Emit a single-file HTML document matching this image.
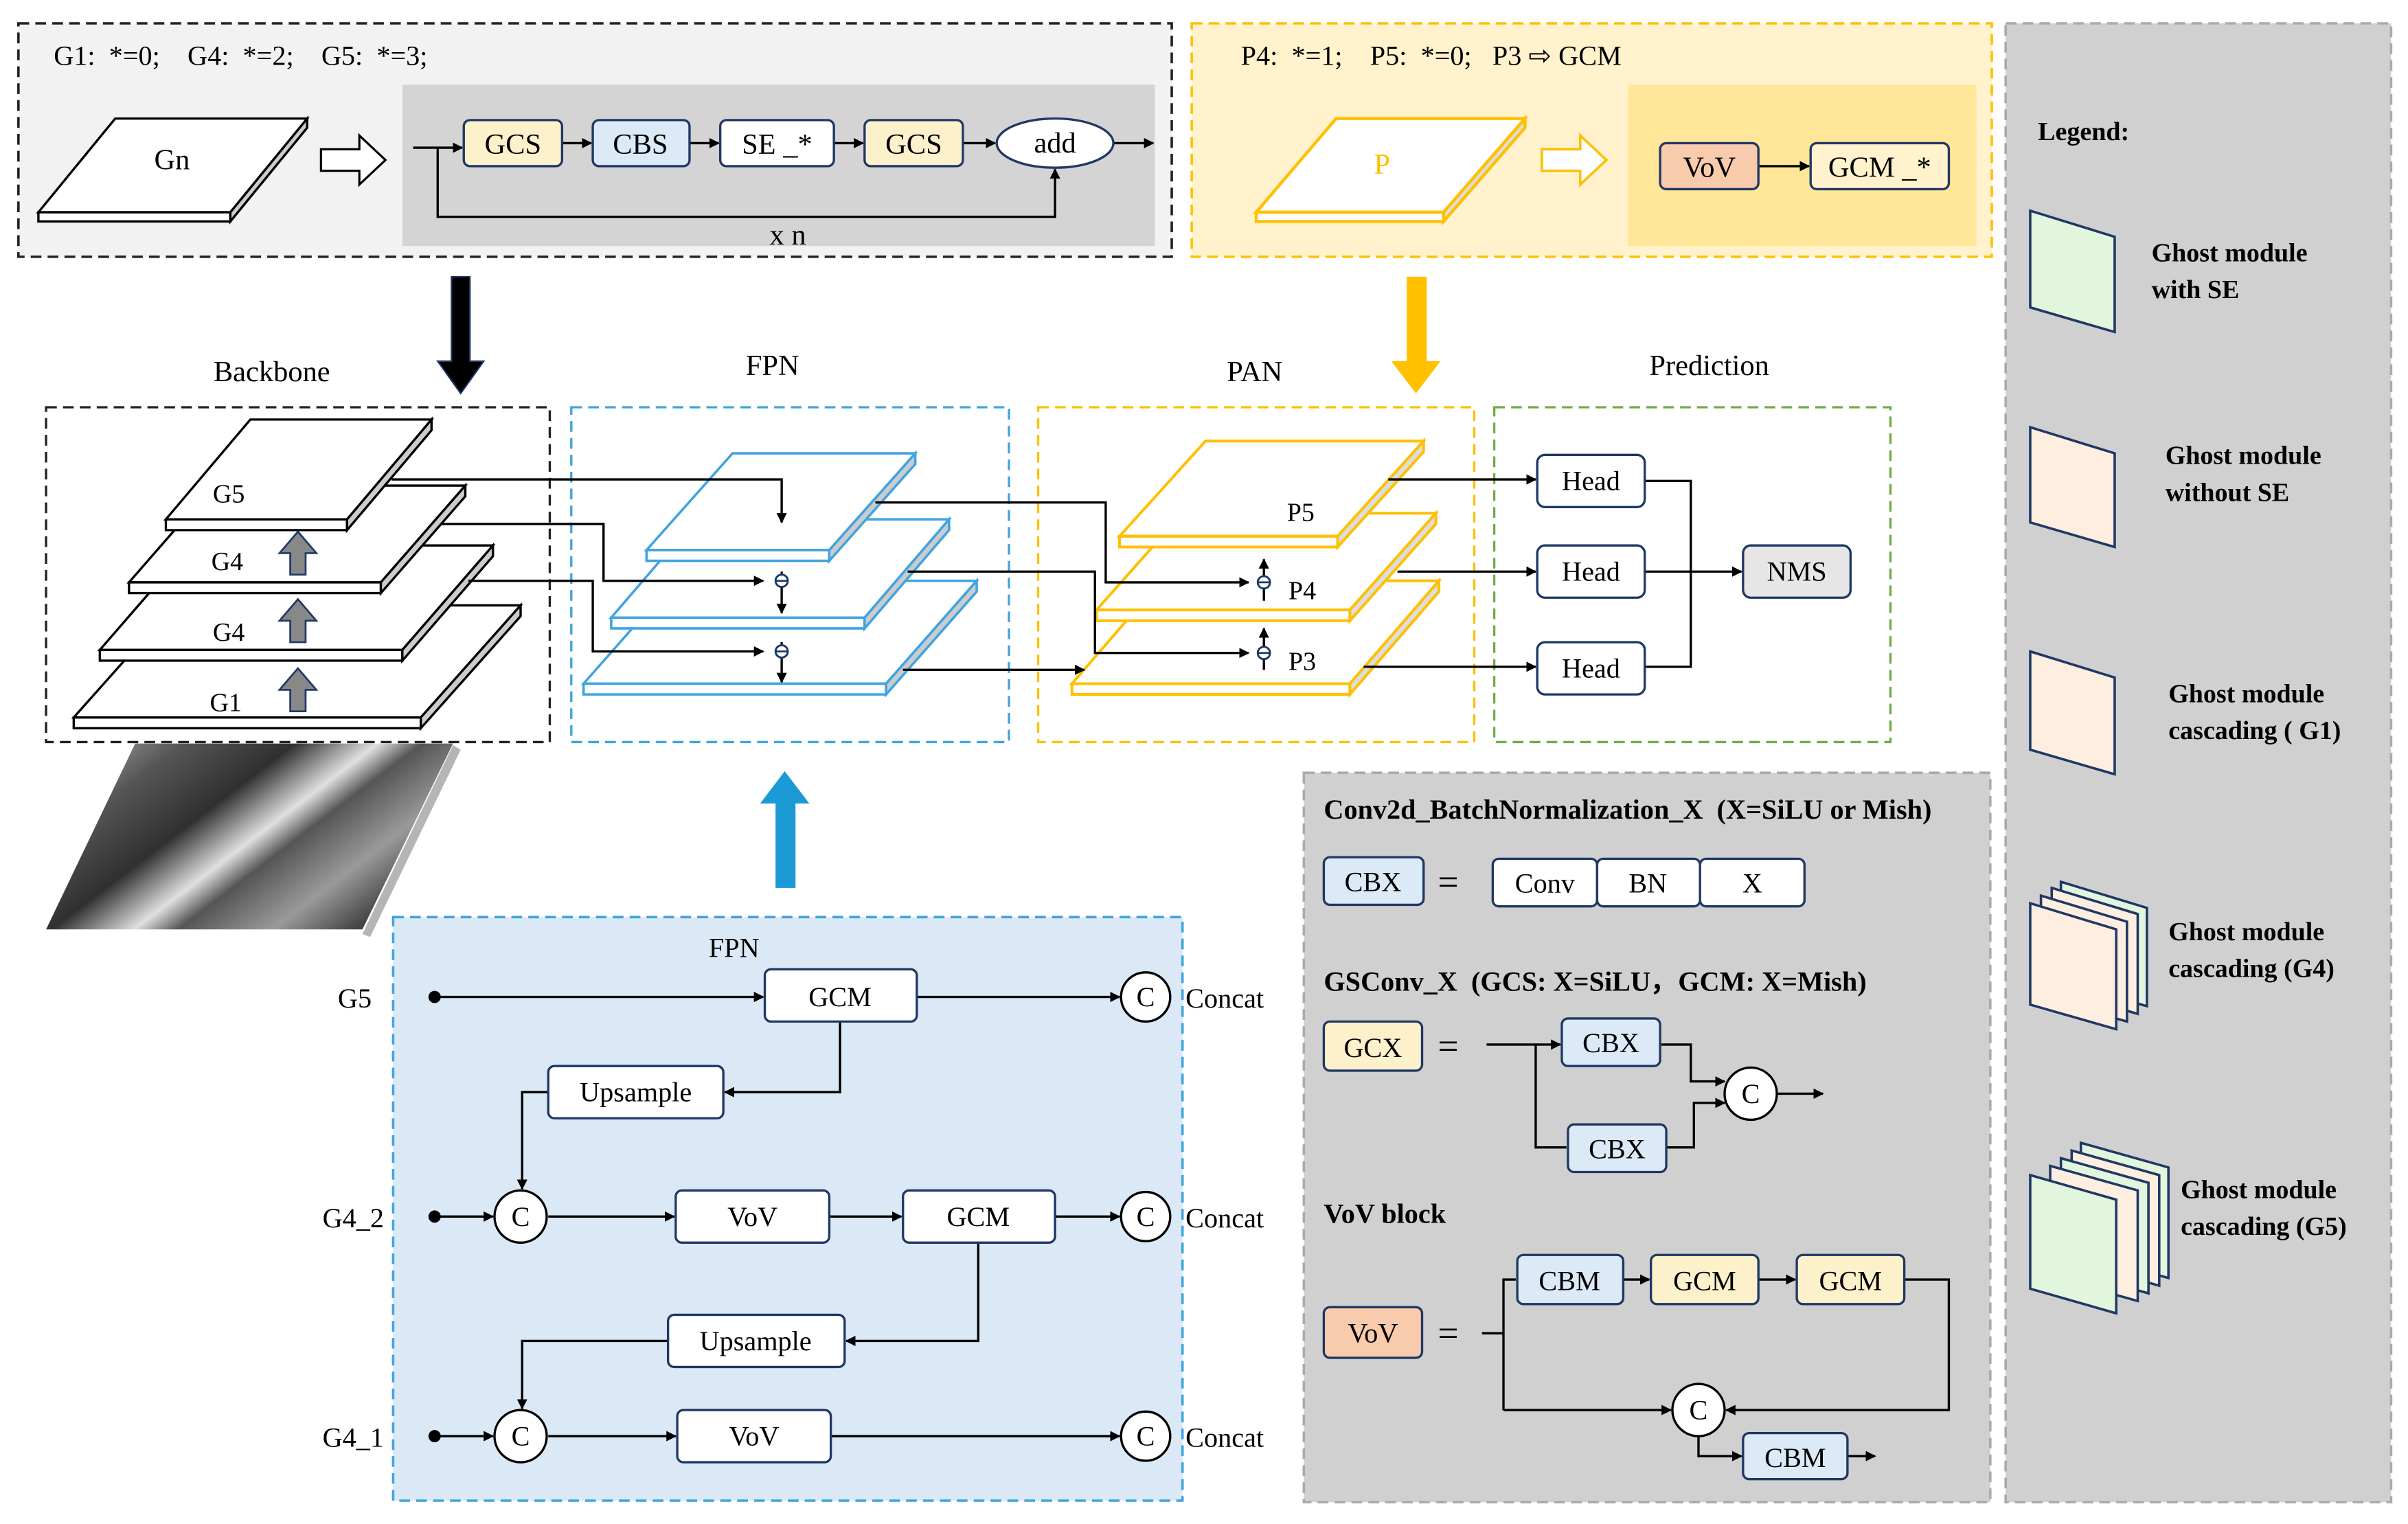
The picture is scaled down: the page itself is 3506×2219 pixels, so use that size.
<!DOCTYPE html>
<html><head><meta charset="utf-8"><style>
html,body{margin:0;padding:0;background:#fff;}
svg{display:block;}
text{font-family:"Liberation Serif",serif;fill:#000;}
.b{font-weight:bold;}
</style></head><body>
<svg width="3506" height="2219" viewBox="0 0 1568 992" xmlns="http://www.w3.org/2000/svg">
<defs>
<marker id="a" viewBox="0 0 10 10" refX="9" refY="5" markerWidth="4.5" markerHeight="4.5" orient="auto"><path d="M0,0L10,5L0,10z" fill="#000"/></marker>
<linearGradient id="ph" x1="0" y1="0" x2="1" y2="0.6"><stop offset="0" stop-color="#bbb"/><stop offset="0.25" stop-color="#555"/><stop offset="0.45" stop-color="#303030"/><stop offset="0.6" stop-color="#e0e0e0"/><stop offset="0.68" stop-color="#555"/><stop offset="0.85" stop-color="#9a9a9a"/><stop offset="1" stop-color="#444"/></linearGradient>
</defs>
<g stroke-linecap="butt">
<!-- top left -->
<rect x="12" y="15" width="751" height="152" fill="#f2f2f2" stroke="#222" stroke-width="1.6" stroke-dasharray="7,4"/>
<text x="35" y="42" font-size="18" xml:space="preserve">G1:  *=0;    G4:  *=2;    G5:  *=3;</text>
<rect x="262" y="55" width="490" height="105" fill="#d4d4d4"/>
<polygon points="25,138 150,138 200,77 75,77" fill="#fff" stroke="#000" stroke-width="1.5"/>
<polygon points="25,138 150,138 150,144 25,144" fill="#fff" stroke="#000" stroke-width="1.5"/>
<polygon points="150,138 200,77 200,83 150,144" fill="#ccc" stroke="#000" stroke-width="1.5"/>
<text x="112" y="110" font-size="19" text-anchor="middle">Gn</text>
<polygon points="209,97 234,97 234,88 251,104 234,120 234,111 209,111" fill="#fff" stroke="#000" stroke-width="1.4"/>
<g stroke="#000" stroke-width="1.5" fill="none">
<line x1="269" y1="96" x2="301" y2="96" marker-end="url(#a)"/>
<polyline points="285,96 285,141 687,141 687,110" marker-end="url(#a)"/>
<line x1="366" y1="93" x2="385" y2="93" marker-end="url(#a)"/>
<line x1="449" y1="93" x2="468" y2="93" marker-end="url(#a)"/>
<line x1="543" y1="93" x2="562" y2="93" marker-end="url(#a)"/>
<line x1="627" y1="93" x2="648" y2="93" marker-end="url(#a)"/>
<line x1="725" y1="93" x2="751" y2="93" marker-end="url(#a)"/>
</g>
<g stroke="#203864" stroke-width="1.5">
<rect x="302" y="78" width="64" height="30" rx="4" fill="#fdf1cc"/>
<rect x="386" y="78" width="63" height="30" rx="4" fill="#dbeaf6"/>
<rect x="469" y="78" width="74" height="30" rx="4" fill="#fff"/>
<rect x="563" y="78" width="64" height="30" rx="4" fill="#fdf1cc"/>
<ellipse cx="687" cy="93" rx="38" ry="16" fill="#fff"/>
</g>
<g font-size="19" text-anchor="middle">
<text x="334" y="100">GCS</text><text x="417" y="100">CBS</text><text x="506" y="100">SE _*</text><text x="595" y="100">GCS</text><text x="687" y="99">add</text>
<text x="513" y="159">x n</text>
</g>
<!-- top right -->
<rect x="776" y="15" width="521" height="152" fill="#fff2cc" stroke="#ffc000" stroke-width="1.6" stroke-dasharray="7,4"/>
<text x="808" y="42" font-size="18" xml:space="preserve">P4:  *=1;    P5:  *=0;   P3 ⇨ GCM</text>
<rect x="1060" y="55" width="227" height="105" fill="#ffe699"/>
<polygon points="818,138 940,138 993,77 870,77" fill="#fff" stroke="#ffc000" stroke-width="2"/>
<polygon points="818,138 940,138 940,144 818,144" fill="#fff" stroke="#ffc000" stroke-width="2"/>
<polygon points="940,138 993,77 993,83 940,144" fill="#ddd" stroke="#ffc000" stroke-width="2"/>
<text x="900" y="113" font-size="19" style="fill:#ffc000" text-anchor="middle">P</text>
<polygon points="1004,97 1029,97 1029,88 1046,104 1029,120 1029,111 1004,111" fill="#fff" stroke="#ffc000" stroke-width="1.6"/>
<line x1="1145" y1="108" x2="1178" y2="108" stroke="#000" stroke-width="1.5" marker-end="url(#a)"/>
<rect x="1081" y="93" width="64" height="30" rx="4" fill="#f8cbad" stroke="#203864" stroke-width="1.5"/>
<rect x="1179" y="93" width="90" height="30" rx="4" fill="#fff2cc" stroke="#203864" stroke-width="1.5"/>
<text x="1113" y="115" font-size="19" text-anchor="middle">VoV</text>
<text x="1224" y="115" font-size="19" text-anchor="middle">GCM _*</text>
<!-- legend -->
<rect x="1306" y="15" width="251" height="963" fill="#d0d0d0" stroke="#aaa" stroke-width="1.6" stroke-dasharray="7,4"/>
<text x="1327" y="91" font-size="17" class="b">Legend:</text>
<g stroke="#203864" stroke-width="1.6">
<polygon points="1322,137 1377,154 1377,216 1322,200" fill="#e2f5dd"/>
<polygon points="1322,278 1377,295 1377,356 1322,340" fill="#fdeee0"/>
<polygon points="1322,424 1377,441 1377,504 1322,488" fill="#fdeee0"/>
<polygon points="1342,574 1398,591 1398,655 1342,639" fill="#e2f5dd"/>
<polygon points="1336,578 1392,595 1392,660 1336,644" fill="#fdeee0"/>
<polygon points="1329,583 1385,600 1385,665 1329,649" fill="#fdeee0"/>
<polygon points="1322,588 1378,605 1378,670 1322,654" fill="#fdeee0"/>
<polygon points="1355,744 1412,760 1412,832 1355,816" fill="#e2f5dd"/>
<polygon points="1349,749 1406,765 1406,837 1349,821" fill="#fdeee0"/>
<polygon points="1342,754 1399,770 1399,842 1342,826" fill="#e2f5dd"/>
<polygon points="1335,759 1392,775 1392,847 1335,831" fill="#fdeee0"/>
<polygon points="1322,765 1378,781 1378,855 1322,839" fill="#e2f5dd"/>
</g>
<g font-size="17" class="b">
<text x="1401" y="170">Ghost module</text><text x="1401" y="194">with SE</text>
<text x="1410" y="302">Ghost module</text><text x="1410" y="326">without SE</text>
<text x="1412" y="457">Ghost module</text><text x="1412" y="481">cascading ( G1)</text>
<text x="1412" y="612">Ghost module</text><text x="1412" y="636">cascading (G4)</text>
<text x="1420" y="780">Ghost module</text><text x="1420" y="804">cascading (G5)</text>
</g>
<!-- big arrows -->
<polygon points="294,180 306,180 306,235 315,235 300,256 285,235 294,235" fill="#000" stroke="#1f3864" stroke-width="1"/>
<polygon points="916,180 929,180 929,235 938,235 922,256 906,235 916,235" fill="#ffc000"/>
<polygon points="505,578 518,578 518,523 527,523 511,502 495,523 505,523" fill="#1c9ad6"/>
<!-- titles -->
<g font-size="19" text-anchor="middle">
<text x="177" y="248">Backbone</text><text x="503" y="244">FPN</text><text x="817" y="248">PAN</text><text x="1113" y="244">Prediction</text>
</g>
<!-- section boxes -->
<rect x="30" y="265" width="328" height="218" fill="none" stroke="#222" stroke-width="1.5" stroke-dasharray="7,4"/>
<rect x="372" y="265" width="285" height="218" fill="none" stroke="#41a4e0" stroke-width="1.5" stroke-dasharray="7,4"/>
<rect x="676" y="265" width="284" height="218" fill="none" stroke="#ffc000" stroke-width="1.5" stroke-dasharray="7,4"/>
<rect x="973" y="265" width="258" height="218" fill="none" stroke="#70ad47" stroke-width="1.5" stroke-dasharray="7,4"/>
<!-- backbone layers -->
<g stroke="#000" stroke-width="1.5">
<polygon points="48,467 274,467 339,394 113,394" fill="#fff"/><polygon points="48,467 274,467 274,474 48,474" fill="#fff"/><polygon points="274,467 339,394 339,401 274,474" fill="#ccc"/>
<polygon points="65,423 262,423 321,355 124,355" fill="#fff"/><polygon points="65,423 262,423 262,430 65,430" fill="#fff"/><polygon points="262,423 321,355 321,362 262,430" fill="#ccc"/>
<polygon points="84,379 248,379 303,316 139,316" fill="#fff"/><polygon points="84,379 248,379 248,386 84,386" fill="#fff"/><polygon points="248,379 303,316 303,323 248,386" fill="#ccc"/>
<polygon points="108,338 226,338 281,273 163,273" fill="#fff"/><polygon points="108,338 226,338 226,345 108,345" fill="#fff"/><polygon points="226,338 281,273 281,280 226,345" fill="#ccc"/>
</g>
<g font-size="17" text-anchor="middle">
<text x="149" y="327">G5</text><text x="148" y="371">G4</text><text x="149" y="417">G4</text><text x="147" y="463">G1</text>
</g>
<g fill="#888" stroke="#1f3864" stroke-width="1.2">
<polygon points="189,374 199,374 199,360 206,360 194,346 182,360 189,360"/>
<polygon points="189,418 199,418 199,404 206,404 194,390 182,404 189,404"/>
<polygon points="189,463 199,463 199,449 206,449 194,435 182,449 189,449"/>
</g>
<!-- photo -->
<polygon points="236,608 295,485 300,488 241,610" fill="#b5b5b5"/>
<polygon points="30,605 88,484 295,484 236,605" fill="url(#ph)"/>
<!-- FPN layers -->
<g stroke="#41a4e0" stroke-width="1.6">
<polygon points="380,445 577,445 636,378 439,378" fill="#fff"/><polygon points="380,445 577,445 577,452 380,452" fill="#fff"/><polygon points="577,445 636,378 636,385 577,452" fill="#ccc"/>
<polygon points="398,402 563,402 618,338 453,338" fill="#fff"/><polygon points="398,402 563,402 563,409 398,409" fill="#fff"/><polygon points="563,402 618,338 618,345 563,409" fill="#ccc"/>
<polygon points="421,358 540,358 596,295 477,295" fill="#fff"/><polygon points="421,358 540,358 540,365 421,365" fill="#fff"/><polygon points="540,358 596,295 596,302 540,365" fill="#ccc"/>
</g>
<!-- PAN layers -->
<g stroke="#ffc000" stroke-width="1.8">
<polygon points="698,445 879,445 937,378 756,378" fill="#fff"/><polygon points="698,445 879,445 879,452 698,452" fill="#fff"/><polygon points="879,445 937,378 937,385 879,452" fill="#ddd"/>
<polygon points="714,397 879,397 935,334 770,334" fill="#fff"/><polygon points="714,397 879,397 879,404 714,404" fill="#fff"/><polygon points="879,397 935,334 935,341 879,404" fill="#ddd"/>
<polygon points="729,349 871,349 927,287 785,287" fill="#fff"/><polygon points="729,349 871,349 871,356 729,356" fill="#fff"/><polygon points="871,349 927,287 927,294 871,356" fill="#ddd"/>
</g>
<g font-size="17" text-anchor="middle"><text x="847" y="339">P5</text><text x="848" y="390">P4</text><text x="848" y="436">P3</text></g>
<!-- connectors -->
<g stroke="#000" stroke-width="1.5" fill="none">
<polyline points="255,312 509,312 509,340" marker-end="url(#a)"/>
<polyline points="287,341 393,341 393,378 497,378" marker-end="url(#a)"/>
<polyline points="305,378 386,378 386,424 497,424" marker-end="url(#a)"/>
<line x1="509" y1="372" x2="509" y2="399" marker-end="url(#a)"/>
<line x1="509" y1="418" x2="509" y2="444" marker-end="url(#a)"/>
<polyline points="570,327 720,327 720,379 813,379" marker-end="url(#a)"/>
<polyline points="591,372 713,372 713,425 813,425" marker-end="url(#a)"/>
<line x1="588" y1="436" x2="706" y2="436" marker-end="url(#a)"/>
<line x1="823" y1="391" x2="823" y2="364" marker-end="url(#a)"/>
<line x1="823" y1="436" x2="823" y2="409" marker-end="url(#a)"/>
<line x1="904" y1="312" x2="1000" y2="312" marker-end="url(#a)"/>
<line x1="910" y1="372" x2="1000" y2="372" marker-end="url(#a)"/>
<line x1="888" y1="434" x2="1000" y2="434" marker-end="url(#a)"/>
<polyline points="1071,313 1101,313 1101,434 1071,434"/>
<line x1="1071" y1="372" x2="1134" y2="372" marker-end="url(#a)"/>
</g>
<g fill="#fff" stroke="#1f3864" stroke-width="1.3">
<circle cx="509" cy="378" r="4"/><circle cx="509" cy="424" r="4"/><circle cx="823" cy="379" r="4"/><circle cx="823" cy="425" r="4"/>
</g>
<g stroke="#1f3864" stroke-width="1.2">
<line x1="505" y1="378" x2="513" y2="378"/><line x1="505" y1="424" x2="513" y2="424"/><line x1="819" y1="379" x2="827" y2="379"/><line x1="819" y1="425" x2="827" y2="425"/>
</g>
<g stroke="#1f3864" stroke-width="1.5">
<rect x="1001" y="296" width="70" height="34" rx="5" fill="#fff"/>
<rect x="1001" y="355" width="70" height="34" rx="5" fill="#fff"/>
<rect x="1001" y="418" width="70" height="34" rx="5" fill="#fff"/>
<rect x="1135" y="355" width="70" height="34" rx="5" fill="#e7e6e6"/>
</g>
<g font-size="18" text-anchor="middle"><text x="1036" y="319">Head</text><text x="1036" y="378">Head</text><text x="1036" y="441">Head</text><text x="1170" y="378">NMS</text></g>
<!-- FPN detail -->
<rect x="256" y="597" width="514" height="380" fill="#dbe9f6" stroke="#41a4e0" stroke-width="1.6" stroke-dasharray="7,4"/>
<text x="478" y="623" font-size="18" text-anchor="middle">FPN</text>
<g font-size="18" text-anchor="end"><text x="242" y="656">G5</text><text x="250" y="799">G4_2</text><text x="250" y="942">G4_1</text></g>
<g font-size="18"><text x="772" y="656">Concat</text><text x="772" y="799">Concat</text><text x="772" y="942">Concat</text></g>
<g stroke="#000" stroke-width="1.5" fill="none">
<line x1="283" y1="649" x2="497" y2="649" marker-end="url(#a)"/>
<line x1="597" y1="649" x2="729" y2="649" marker-end="url(#a)"/>
<polyline points="547,665 547,711 472,711" marker-end="url(#a)"/>
<polyline points="357,711 340,711 340,774" marker-end="url(#a)"/>
<line x1="283" y1="792" x2="321" y2="792" marker-end="url(#a)"/>
<line x1="357" y1="792" x2="439" y2="792" marker-end="url(#a)"/>
<line x1="540" y1="792" x2="587" y2="792" marker-end="url(#a)"/>
<line x1="687" y1="792" x2="729" y2="792" marker-end="url(#a)"/>
<polyline points="637,809 637,873 551,873" marker-end="url(#a)"/>
<polyline points="435,873 340,873 340,917" marker-end="url(#a)"/>
<line x1="283" y1="935" x2="321" y2="935" marker-end="url(#a)"/>
<line x1="357" y1="935" x2="440" y2="935" marker-end="url(#a)"/>
<line x1="541" y1="935" x2="729" y2="935" marker-end="url(#a)"/>
</g>
<g fill="#000"><circle cx="283" cy="649" r="4"/><circle cx="283" cy="792" r="4"/><circle cx="283" cy="935" r="4"/></g>
<g stroke="#1f3864" stroke-width="1.5" fill="#fff">
<rect x="498" y="631" width="99" height="34" rx="4"/>
<rect x="357" y="694" width="114" height="34" rx="4"/>
<rect x="440" y="775" width="100" height="34" rx="4"/>
<rect x="588" y="775" width="99" height="34" rx="4"/>
<rect x="435" y="856" width="115" height="34" rx="4"/>
<rect x="441" y="918" width="100" height="34" rx="4"/>
</g>
<g stroke="#000" stroke-width="1.5" fill="#fff">
<circle cx="339" cy="792" r="17"/><circle cx="339" cy="935" r="17"/>
<circle cx="746" cy="649" r="16"/><circle cx="746" cy="792" r="16"/><circle cx="746" cy="935" r="16"/>
</g>
<g font-size="18" text-anchor="middle">
<text x="547" y="655">GCM</text><text x="414" y="717">Upsample</text><text x="490" y="798">VoV</text><text x="637" y="798">GCM</text><text x="492" y="879">Upsample</text><text x="491" y="941">VoV</text>
<text x="339" y="798">C</text><text x="339" y="941">C</text><text x="746" y="655">C</text><text x="746" y="798">C</text><text x="746" y="941">C</text>
</g>
<!-- bottom right gray -->
<rect x="849" y="503" width="447" height="475" fill="#d0d0d0" stroke="#aaa" stroke-width="1.6" stroke-dasharray="7,4"/>
<text x="862" y="533" font-size="18" class="b" xml:space="preserve">Conv2d_BatchNormalization_X  (X=SiLU or Mish)</text>
<text x="862" y="645" font-size="18" class="b" xml:space="preserve">GSConv_X  (GCS: X=SiLU，GCM: X=Mish)</text>
<text x="862" y="796" font-size="18" class="b">VoV block</text>
<g stroke="#000" stroke-width="1.5" fill="none">
<polyline points="968,680 1016,680" marker-end="url(#a)"/>
<polyline points="1000,680 1000,747 1020,747"/>
<polyline points="1081,680 1101,680 1101,704 1123,704" marker-end="url(#a)"/>
<polyline points="1085,747 1103,747 1103,718 1123,718" marker-end="url(#a)"/>
<line x1="1157" y1="712" x2="1187" y2="712" marker-end="url(#a)"/>
<polyline points="965,868 979,868"/>
<polyline points="979,918 979,833 987,833"/>
<line x1="979" y1="918" x2="1088" y2="918" marker-end="url(#a)"/>
<line x1="1057" y1="833" x2="1074" y2="833" marker-end="url(#a)"/>
<line x1="1145" y1="833" x2="1169" y2="833" marker-end="url(#a)"/>
<polyline points="1240,833 1269,833 1269,918 1124,918" marker-end="url(#a)"/>
<polyline points="1106,935 1106,948 1134,948" marker-end="url(#a)"/>
<line x1="1203" y1="948" x2="1221" y2="948" marker-end="url(#a)"/>
</g>
<g stroke="#1f3864" stroke-width="1.5">
<rect x="862" y="558" width="65" height="31" rx="4" fill="#dbeaf6"/>
<rect x="972" y="559" width="68" height="31" rx="4" fill="#fff"/>
<rect x="1040" y="559" width="67" height="31" rx="4" fill="#fff"/>
<rect x="1107" y="559" width="68" height="31" rx="4" fill="#fff"/>
<rect x="862" y="665" width="64" height="32" rx="4" fill="#fdf1cc"/>
<rect x="1017" y="663" width="64" height="31" rx="4" fill="#dbeaf6"/>
<rect x="1021" y="732" width="64" height="31" rx="4" fill="#dbeaf6"/>
<rect x="862" y="851" width="64" height="33" rx="4" fill="#f8cbad"/>
<rect x="988" y="817" width="69" height="32" rx="4" fill="#dbeaf6"/>
<rect x="1075" y="817" width="70" height="32" rx="4" fill="#fdf1cc"/>
<rect x="1170" y="817" width="70" height="32" rx="4" fill="#fdf1cc"/>
<rect x="1135" y="933" width="68" height="30" rx="4" fill="#dbeaf6"/>
</g>
<g stroke="#000" stroke-width="1.5" fill="#fff"><circle cx="1140" cy="712" r="17"/><circle cx="1106" cy="918" r="17"/></g>
<g font-size="18" text-anchor="middle">
<text x="894" y="580">CBX</text><text x="1006" y="581">Conv</text><text x="1073" y="581">BN</text><text x="1141" y="581">X</text>
<text x="894" y="688">GCX</text><text x="1049" y="685">CBX</text><text x="1053" y="754">CBX</text>
<text x="894" y="874">VoV</text><text x="1022" y="840">CBM</text><text x="1110" y="840">GCM</text><text x="1205" y="840">GCM</text><text x="1169" y="955">CBM</text>
<text x="1140" y="718">C</text><text x="1106" y="924">C</text>
</g>
<g font-size="24" text-anchor="middle"><text x="943" y="582">=</text><text x="943" y="689">=</text><text x="943" y="876">=</text></g>
</g>
</svg>
</body></html>
